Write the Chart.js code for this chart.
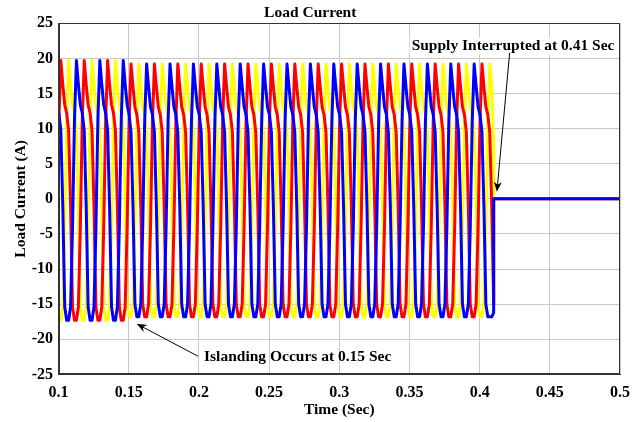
<!DOCTYPE html>
<html>
<head>
<meta charset="utf-8">
<title>Load Current</title>
<script src="https://cdn.jsdelivr.net/npm/chart.js@4.4.1/dist/chart.umd.min.js"></script>
<style>
  html, body { margin: 0; padding: 0; background: #fff; }
  canvas { display: block; }
</style>
</head>
<body>
<canvas id="loadChart" width="639" height="422"></canvas>
<script>
// ── 1. DATA ──
// Three-phase load current (A), sampled at 720 samples/s.
// The last sample of each phase sits at the instant the supply trips.
const SAMPLE_RATE = 720;
const TRIP_TIME = 0.41;

const phaseA = [
  11.3, 19.7, 16.3, 13.4, 12.2, 9.7, -1, -15.4, -17.3, -17.3, -15.4, -4,
  11.3, 19.7, 16.3, 13.4, 12.2, 9.7, -1, -15.4, -17.3, -17.3, -15.4, -4,
  11.3, 19.7, 16.3, 13.4, 12.2, 9.7, -1, -15.4, -17.3, -17.3, -15.4, -4,
  11, 19.2, 16, 13.1, 12, 9.5, -1, -15, -16.8, -16.8, -15, -4,
  11, 19.2, 16, 13.1, 12, 9.5, -1, -15, -16.8, -16.8, -15, -4,
  11, 19.2, 16, 13.1, 12, 9.5, -1, -15, -16.8, -16.8, -15, -4,
  11, 19.2, 16, 13.1, 12, 9.5, -1, -15, -16.8, -16.8, -15, -4,
  11, 19.2, 16, 13.1, 12, 9.5, -1, -15, -16.8, -16.8, -15, -4,
  11, 19.2, 16, 13.1, 12, 9.5, -1, -15, -16.8, -16.8, -15, -4,
  11, 19.2, 16, 13.1, 12, 9.5, -1, -15, -16.8, -16.8, -15, -4,
  11, 19.2, 16, 13.1, 12, 9.5, -1, -15, -16.8, -16.8, -15, -4,
  11, 19.2, 16, 13.1, 12, 9.5, -1, -15, -16.8, -16.8, -15, -4,
  11, 19.2, 16, 13.1, 12, 9.5, -1, -15, -16.8, -16.8, -15, -4,
  11, 19.2, 16, 13.1, 12, 9.5, -1, -15, -16.8, -16.8, -15, -4,
  11, 19.2, 16, 13.1, 12, 9.5, -1, -15, -16.8, -16.8, -15, -4,
  11, 19.2, 16, 13.1, 12, 9.5, -1, -15, -16.8, -16.8, -15, -4,
  11, 19.2, 16, 13.1, 12, 9.5, -1, -15, -16.8, -16.8, -15, -4,
  11, 19.2, 16, 13.1, 12, 9.5, -1, -15, -16.8, -16.8, -15, -4,
  11, 19.2, 16, 13.1, 12, 9.5, -1, -15
];

const phaseB = [
  -17.3, -17.3, -15.4, -4, 11.3, 19.7, 16.3, 13.4, 12.2, 9.7, -1, -15.4,
  -17.3, -17.3, -15.4, -4, 11.3, 19.7, 16.3, 13.4, 12.2, 9.7, -1, -15.4,
  -17.3, -17.3, -15.4, -4, 11.3, 19.7, 16.3, 13.4, 12.2, 9.7, -1, -15.4,
  -16.8, -16.8, -15, -4, 11, 19.2, 16, 13.1, 12, 9.5, -1, -15,
  -16.8, -16.8, -15, -4, 11, 19.2, 16, 13.1, 12, 9.5, -1, -15,
  -16.8, -16.8, -15, -4, 11, 19.2, 16, 13.1, 12, 9.5, -1, -15,
  -16.8, -16.8, -15, -4, 11, 19.2, 16, 13.1, 12, 9.5, -1, -15,
  -16.8, -16.8, -15, -4, 11, 19.2, 16, 13.1, 12, 9.5, -1, -15,
  -16.8, -16.8, -15, -4, 11, 19.2, 16, 13.1, 12, 9.5, -1, -15,
  -16.8, -16.8, -15, -4, 11, 19.2, 16, 13.1, 12, 9.5, -1, -15,
  -16.8, -16.8, -15, -4, 11, 19.2, 16, 13.1, 12, 9.5, -1, -15,
  -16.8, -16.8, -15, -4, 11, 19.2, 16, 13.1, 12, 9.5, -1, -15,
  -16.8, -16.8, -15, -4, 11, 19.2, 16, 13.1, 12, 9.5, -1, -15,
  -16.8, -16.8, -15, -4, 11, 19.2, 16, 13.1, 12, 9.5, -1, -15,
  -16.8, -16.8, -15, -4, 11, 19.2, 16, 13.1, 12, 9.5, -1, -15,
  -16.8, -16.8, -15, -4, 11, 19.2, 16, 13.1, 12, 9.5, -1, -15,
  -16.8, -16.8, -15, -4, 11, 19.2, 16, 13.1, 12, 9.5, -1, -15,
  -16.8, -16.8, -15, -4, 11, 19.2, 16, 13.1, 12, 9.5, -1, -15,
  -16.8, -16.8, -15, -4, 11, 19.2, 16, 8
];

const phaseC = [
  12.2, 9.7, -1, -15.4, -17.3, -17.3, -15.4, -4, 11.3, 19.7, 16.3, 13.4,
  12.2, 9.7, -1, -15.4, -17.3, -17.3, -15.4, -4, 11.3, 19.7, 16.3, 13.4,
  12.2, 9.7, -1, -15.4, -17.3, -17.3, -15.4, -4, 11.3, 19.7, 16.3, 13.4,
  12, 9.5, -1, -15, -16.8, -16.8, -15, -4, 11, 19.2, 16, 13.1,
  12, 9.5, -1, -15, -16.8, -16.8, -15, -4, 11, 19.2, 16, 13.1,
  12, 9.5, -1, -15, -16.8, -16.8, -15, -4, 11, 19.2, 16, 13.1,
  12, 9.5, -1, -15, -16.8, -16.8, -15, -4, 11, 19.2, 16, 13.1,
  12, 9.5, -1, -15, -16.8, -16.8, -15, -4, 11, 19.2, 16, 13.1,
  12, 9.5, -1, -15, -16.8, -16.8, -15, -4, 11, 19.2, 16, 13.1,
  12, 9.5, -1, -15, -16.8, -16.8, -15, -4, 11, 19.2, 16, 13.1,
  12, 9.5, -1, -15, -16.8, -16.8, -15, -4, 11, 19.2, 16, 13.1,
  12, 9.5, -1, -15, -16.8, -16.8, -15, -4, 11, 19.2, 16, 13.1,
  12, 9.5, -1, -15, -16.8, -16.8, -15, -4, 11, 19.2, 16, 13.1,
  12, 9.5, -1, -15, -16.8, -16.8, -15, -4, 11, 19.2, 16, 13.1,
  12, 9.5, -1, -15, -16.8, -16.8, -15, -4, 11, 19.2, 16, 13.1,
  12, 9.5, -1, -15, -16.8, -16.8, -15, -4, 11, 19.2, 16, 13.1,
  12, 9.5, -1, -15, -16.8, -16.8, -15, -4, 11, 19.2, 16, 13.1,
  12, 9.5, -1, -15, -16.8, -16.8, -15, -4, 11, 19.2, 16, 13.1,
  12, 9.5, -1, -15, -16.8, -16.8, -16.8, -16.2
];

// once the supply is cut the load current stays at zero
const afterTripTime = [0.41, 0.5];
const afterTripCurrent = [0, 0];

const timeTicks = [0.1, 0.15, 0.2, 0.25, 0.3, 0.35, 0.4, 0.45, 0.5];
const currentTicks = [-25, -20, -15, -10, -5, 0, 5, 10, 15, 20, 25];

// event notes, in data units: text centre, arrow tail, arrow tip
const notes = [
  { text: 'Supply Interrupted at 0.41 Sec', at: [0.4238, 21.7], from: [0.4214, 20.8], to: [0.4123, 1.0], boxed: true },
  { text: 'Islanding Occurs at 0.15 Sec', at: [0.2704, -22.5], from: [0.1993, -22.4], to: [0.1557, -17.8], boxed: false }
];

// ── 2. HELPERS ──
const SERIF = '"Liberation Serif", "Times New Roman", serif';
const boldFont = size => ({ family: SERIF, size, weight: 'bold', lineHeight: 1.2 });

function toPoints(values) {
  const last = values.length - 1;
  const pts = values.map((y, i) => ({ x: TRIP_TIME - (last - i) / SAMPLE_RATE, y }));
  afterTripTime.forEach((x, i) => pts.push({ x, y: afterTripCurrent[i] }));
  return pts;
}

function drawArrow(ctx, x1, y1, x2, y2) {
  const ang = Math.atan2(y2 - y1, x2 - x1);
  const len = 10, half = 4;
  ctx.beginPath();
  ctx.moveTo(x1, y1);
  ctx.lineTo(x2 - Math.cos(ang) * len * 0.6, y2 - Math.sin(ang) * len * 0.6);
  ctx.stroke();
  ctx.beginPath();
  ctx.moveTo(x2, y2);
  ctx.lineTo(x2 - Math.cos(ang) * len + Math.sin(ang) * half, y2 - Math.sin(ang) * len - Math.cos(ang) * half);
  ctx.lineTo(x2 - Math.cos(ang) * len * 0.7, y2 - Math.sin(ang) * len * 0.7);
  ctx.lineTo(x2 - Math.cos(ang) * len - Math.sin(ang) * half, y2 - Math.sin(ang) * len + Math.cos(ang) * half);
  ctx.closePath();
  ctx.fill();
}

// plot frame + event notes
const framePlugin = {
  id: 'frameAndNotes',
  afterDraw(chart) {
    const { ctx, chartArea: a, scales: { x, y } } = chart;
    ctx.save();
    ctx.strokeStyle = '#333';
    ctx.lineWidth = 1;
    const l = Math.round(a.left) + 0.5, t = Math.round(a.top) + 0.5;
    const r = Math.round(a.right) - 0.5, b = Math.round(a.bottom) - 0.5;
    ctx.strokeRect(l, t, r - l, b - t);

    ctx.font = 'bold 15.5px ' + SERIF;
    ctx.textAlign = 'center';
    ctx.textBaseline = 'middle';
    notes.forEach(n => {
      const tx = x.getPixelForValue(n.at[0]);
      const ty = y.getPixelForValue(n.at[1]);
      const w = ctx.measureText(n.text).width;
      if (n.boxed) {
        ctx.fillStyle = '#fff';
        ctx.fillRect(tx - w / 2 - 2, ty - 9, w + 4, 17);
      }
      ctx.fillStyle = '#000';
      ctx.fillText(n.text, tx, ty);
      ctx.strokeStyle = '#000';
      ctx.lineWidth = 1;
      drawArrow(ctx,
        x.getPixelForValue(n.from[0]), y.getPixelForValue(n.from[1]),
        x.getPixelForValue(n.to[0]), y.getPixelForValue(n.to[1]));
    });
    ctx.restore();
  }
};

// ── 3. CHART ──
const lineStyle = { borderWidth: 3, pointRadius: 0, tension: 0, fill: false, borderJoinStyle: 'round' };

new Chart(document.getElementById('loadChart').getContext('2d'), {
  type: 'line',
  data: {
    datasets: [
      { label: 'Phase A', data: toPoints(phaseA), borderColor: '#ff0000', order: 2, ...lineStyle },
      { label: 'Phase B', data: toPoints(phaseB), borderColor: '#ffff00', order: 3, ...lineStyle },
      { label: 'Phase C', data: toPoints(phaseC), borderColor: '#0000ff', order: 1, ...lineStyle }
    ]
  },
  options: {
    responsive: false,
    animation: false,
    layout: { padding: { left: 0, right: 18.5, top: 0, bottom: 0 } },
    plugins: {
      legend: { display: false },
      tooltip: { enabled: false },
      title: {
        display: true, text: 'Load Current', color: '#000',
        font: boldFont(15.5), padding: { top: 4, bottom: 0.7 }
      }
    },
    scales: {
      x: {
        type: 'linear', min: 0.1, max: 0.5,
        afterBuildTicks: s => { s.ticks = timeTicks.map(value => ({ value })); },
        afterFit: s => { s.height = 47.6; },
        grid: { color: '#c8c8c8', drawTicks: false },
        border: { color: '#333' },
        ticks: { color: '#000', font: boldFont(16), padding: 9, maxRotation: 0, autoSkip: false, callback: v => String(v) },
        title: { display: true, text: 'Time (Sec)', color: '#000', font: boldFont(15.5), padding: { top: 0, bottom: 2.7 } }
      },
      y: {
        type: 'linear', min: -25, max: 25,
        afterBuildTicks: s => { s.ticks = currentTicks.map(value => ({ value })); },
        afterFit: s => { s.width = 58.5; },
        grid: { color: '#c8c8c8', drawTicks: false },
        border: { color: '#333' },
        ticks: { color: '#000', font: boldFont(16), padding: 5.5, autoSkip: false, callback: v => String(v) },
        title: { display: true, text: 'Load Current (A)', color: '#000', font: boldFont(15.5), padding: { top: 11.7, bottom: 0 } }
      }
    }
  },
  plugins: [framePlugin]
});
</script>
</body>
</html>
